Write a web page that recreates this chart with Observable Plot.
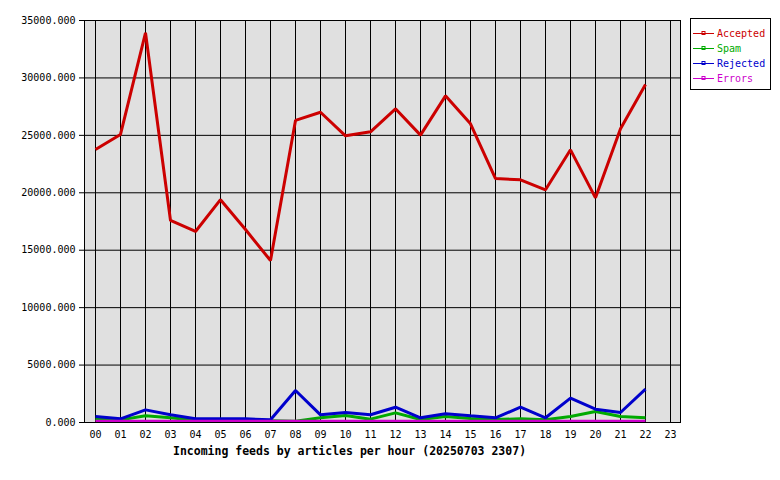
<!DOCTYPE html>
<html>
<head>
<meta charset="utf-8">
<script src="https://cdn.jsdelivr.net/npm/d3@7"></script>
<script src="https://cdn.jsdelivr.net/npm/@observablehq/plot@0.6"></script>
<style>
  html, body { margin: 0; padding: 0; background: white; }
  #wrap { position: relative; width: 780px; height: 480px; }
  #legend { position: absolute; left: 690px; top: 18px; width: 81px; height: 72px; border: 1px solid black; background: white; box-sizing: border-box; font-family: "DejaVu Sans Mono", monospace; font-size: 10px; }
  .item { position: absolute; left: 2px; height: 15px; display: flex; align-items: center; }
  .item svg { margin-right: 3px; }
</style>
</head>
<body>
<div id="wrap"><div id="chart"></div><div id="legend"></div></div>
<script>
const hours = ["00","01","02","03","04","05","06","07","08","09","10","11","12","13","14","15","16","17","18","19","20","21","22","23"];
const seriesNames = ["Accepted", "Spam", "Rejected", "Errors"];
const seriesColors = ["#cc0000", "#00aa00", "#0000cc", "#cc00cc"];
const accepted = [23770, 25080, 33930, 17590, 16630, 19400, 16800, 14100, 26300, 27010, 24960, 25310, 27310, 25020, 28440, 26000, 21240, 21130, 20260, 23740, 19560, 25570, 29430];
const spam     = [290, 230, 580, 410, 200, 170, 160, 150, 110, 410, 610, 290, 840, 260, 520, 350, 260, 320, 230, 520, 960, 520, 410];
const rejected = [520, 320, 1100, 670, 320, 320, 320, 235, 2790, 670, 870, 670, 1330, 410, 760, 580, 410, 1330, 410, 2120, 1160, 870, 2900];
const errors   = [100, 100, 100, 100, 100, 100, 100, 100, 100, 100, 100, 100, 100, 100, 100, 100, 100, 100, 100, 100, 100, 100, 100];
const yTicks = [0, 5000, 10000, 15000, 20000, 25000, 30000, 35000];
const title = "Incoming feeds by articles per hour (20250703 2307)";

const seriesValues = [accepted, spam, rejected, errors];
const data = [];
seriesNames.forEach((name, s) => {
  seriesValues[s].forEach((v, i) => data.push({hour: hours[i], value: v, series: name}));
});

const chart = Plot.plot({
  width: 780,
  height: 480,
  marginLeft: 84,
  marginRight: 100,
  marginTop: 20,
  marginBottom: 58,
  style: {fontFamily: "DejaVu Sans Mono", fontSize: "10px", background: "white", color: "black"},
  x: {type: "point", domain: hours, padding: 0.27, align: 0.5, label: null},
  y: {domain: [0, 35000], label: null},
  color: {domain: seriesNames, range: seriesColors},
  marks: [
    Plot.frame({fill: "#e0e0e0", stroke: null}),
    Plot.gridX({stroke: "black", strokeOpacity: 1, strokeWidth: 1}),
    Plot.gridY(yTicks, {stroke: "black", strokeOpacity: 1, strokeWidth: 1}),
    Plot.lineY(data, {x: "hour", y: "value", z: "series", stroke: "series", strokeWidth: 3, strokeLinejoin: "miter", strokeLinecap: "butt"}),
    Plot.frame({stroke: "black", strokeWidth: 1}),
    Plot.axisY(yTicks, {tickSize: 5, tickPadding: 4, tickFormat: d => d.toFixed(3), label: null, fontSize: 10}),
    Plot.axisX({tickSize: 0, tickPadding: 8, label: null, fontSize: 10}),
    Plot.text([title], {frameAnchor: "bottom", dx: -33, dy: 32, fontWeight: "bold", fontSize: 11.5, fill: "black"})
  ]
});
document.getElementById("chart").appendChild(chart);

const legend = document.getElementById("legend");
seriesNames.forEach((name, i) => {
  const item = document.createElement("div");
  item.className = "item";
  item.style.top = (7 + i * 15) + "px";
  item.innerHTML = `<svg width="21" height="9"><line x1="0" y1="4.5" x2="21" y2="4.5" stroke="${seriesColors[i]}" stroke-width="1"/><rect x="9" y="2.5" width="3" height="3" fill="none" stroke="${seriesColors[i]}" stroke-width="1"/></svg><span style="color:${seriesColors[i]}">${name}</span>`;
  legend.appendChild(item);
});
</script>
</body>
</html>
